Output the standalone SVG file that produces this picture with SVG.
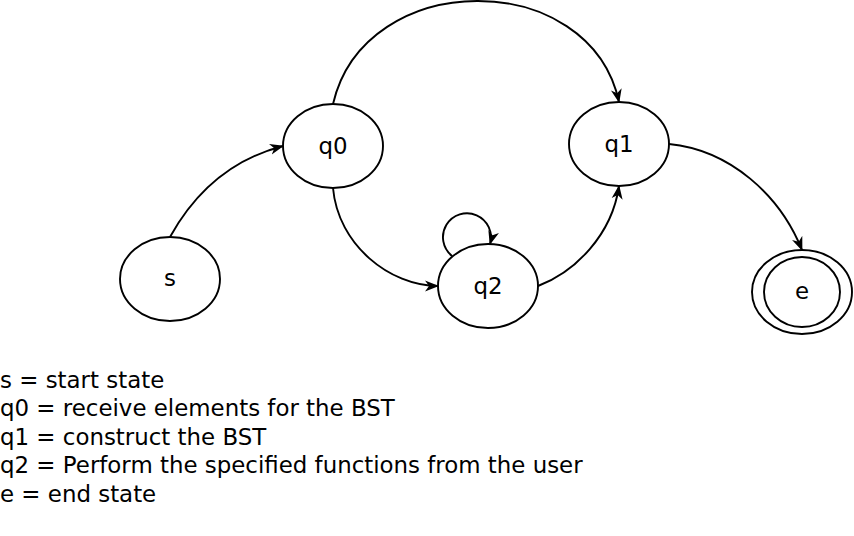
<svg xmlns="http://www.w3.org/2000/svg" width="854" height="536" viewBox="0 0 854 536">
<style>
.n{fill:#fff;stroke:#000;stroke-width:1.9}
.t{font-family:"DejaVu Sans",sans-serif;font-size:22.9px;fill:#000}
.c{text-anchor:middle}
.e{fill:none;stroke:#000;stroke-width:1.9}
</style>
<defs>
<marker id="a" viewBox="0 0 14 12" refX="13" refY="6" markerWidth="14" markerHeight="12" markerUnits="userSpaceOnUse" orient="auto">
<path d="M0 0.5 L14 6 L0 11.5 L4 6 Z" fill="#000"/>
</marker>
</defs>
<rect width="854" height="536" fill="#fff"/>
<g id="connectors">
<path class="e" d="M170 237 Q 210 165 283 146" marker-end="url(#a)"/>
<path class="e" d="M333 104 C 365 -33 590 -33 619 102" marker-end="url(#a)"/>
<path class="e" d="M333 188 C 338 245 390 286 438 286" marker-end="url(#a)"/>
<path class="e" d="M538 286 C 575 272 612 235 619 186" marker-end="url(#a)"/>
<path class="e" d="M669 144 C 730 150 780 195 802 250" marker-end="url(#a)"/>
<path class="e" d="M452 256 A 24 24 0 1 1 490 244" marker-end="url(#a)"/>
</g>
<g id="s"><ellipse class="n" cx="170" cy="279" rx="50" ry="42"/><text class="t c" x="170" y="285.5">s</text></g>
<g id="q0"><ellipse class="n" cx="333" cy="146" rx="50" ry="42"/><text class="t c" x="333" y="154">q0</text></g>
<g id="q1"><ellipse class="n" cx="619" cy="144" rx="50" ry="42"/><text class="t c" x="619" y="152">q1</text></g>
<g id="q2"><ellipse class="n" cx="488" cy="286" rx="50" ry="42"/><text class="t c" x="488" y="294">q2</text></g>
<g id="e"><ellipse class="n" cx="802" cy="292" rx="50" ry="42"/><ellipse class="n" cx="802" cy="292" rx="38" ry="35"/><text class="t c" x="802" y="298.5">e</text></g>
<g id="legend">
<text class="t" x="0" y="387.5">s = start state</text>
<text class="t" x="0" y="416">q0 = receive elements for the BST</text>
<text class="t" x="0" y="444.5">q1 = construct the BST</text>
<text class="t" x="0" y="473">q2 = Perform the specified functions from the user</text>
<text class="t" x="0" y="501.5">e = end state</text>
</g>
</svg>
